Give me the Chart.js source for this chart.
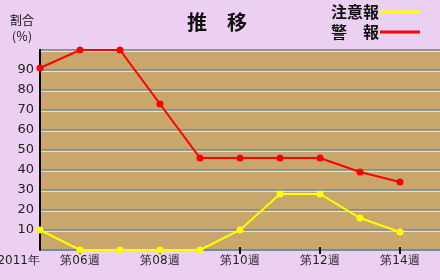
<!DOCTYPE html>
<html>
<head>
<meta charset="utf-8">
<style>
  body { margin: 0; background: #ecd0f2; }
  canvas { display: block; }
</style>
<script src="https://cdn.jsdelivr.net/npm/chart.js@4"></script>
</head>
<body>
<canvas id="chart" width="440" height="280"></canvas>
<script>
// weeks 05..14 of 2011
const weeks = ['2011年', '第06週', '第07週', '第08週', '第09週', '第10週', '第11週', '第12週', '第13週', '第14週'];
const shownWeekLabels = ['2011年', '第06週', '', '第08週', '', '第10週', '', '第12週', '', '第14週'];
const advisoryValues = [10, 0, 0, 0, 0, 10, 28, 28, 16, 9];   // 注意報
const warningValues = [91, 100, 100, 73, 46, 46, 46, 46, 39, 34]; // 警報
const yTicks = [10, 20, 30, 40, 50, 60, 70, 80, 90];

const BG = '#ecd0f2';
const PLOT_BG = '#c9a76c';
const GRID_BLUE = '#5b9bc2';
const GRID_CREAM = '#f2e2b4';
const FONT = '"DejaVu Sans", sans-serif';
const CJK = '"Noto Sans CJK JP", sans-serif';

const toPoints = (vals) => vals.map((v, i) => ({ x: i, y: v }));

// background + plot area fill + cream lines under the grid
const decorPlugin = {
  id: 'decor',
  beforeDraw(chart) {
    const { ctx, chartArea: a, scales } = chart;
    ctx.save();
    ctx.fillStyle = BG;
    ctx.fillRect(0, 0, chart.width, chart.height);
    ctx.fillStyle = PLOT_BG;
    ctx.fillRect(a.left, a.top, a.right - a.left, a.bottom - a.top);
    ctx.fillStyle = GRID_CREAM;
    for (let v = 10; v <= 100; v += 10) {
      const y = Math.round(scales.y.getPixelForValue(v));
      ctx.fillRect(a.left, y + 1, a.right - a.left, 1);
    }
    ctx.restore();
  },
  beforeDatasetsDraw(chart) {
    const { ctx, chartArea: a, scales } = chart;
    ctx.save();
    // small tick marks on the x axis
    ctx.strokeStyle = '#111';
    ctx.lineWidth = 2;
    weeks.forEach((w, i) => {
      if (i % 2 === 1) {
        const x = Math.round(scales.x.getPixelForValue(i));
        ctx.beginPath();
        ctx.moveTo(x, a.bottom - 3);
        ctx.lineTo(x, a.bottom + 4);
        ctx.stroke();
      }
    });
    ctx.restore();
  },
  afterDraw(chart) {
    const { ctx, scales, chartArea: a } = chart;
    ctx.save();
    ctx.fillStyle = '#111';
    // title
    ctx.font = 'bold 20px ' + CJK;
    ctx.textAlign = 'center';
    ctx.textBaseline = 'middle';
    ctx.fillText('推　移', 217, 22);
    // unit label
    ctx.font = '12px ' + CJK;
    ctx.fillText('割合', 22, 20);
    ctx.fillText('(％)', 22, 36);
    // first x label, right-aligned to the axis
    ctx.font = '12px ' + FONT;
    ctx.textAlign = 'right';
    ctx.fillStyle = '#222';
    ctx.fillText(weeks[0], Math.round(scales.x.getPixelForValue(0)), a.bottom + 11);
    // legend
    ctx.font = 'bold 16px ' + CJK;
    ctx.textAlign = 'left';
    chart.data.datasets.forEach((ds, i) => {
      const y = 12 + i * 20;
      ctx.fillStyle = '#111';
      ctx.fillText(ds.label, 331, y);
      ctx.strokeStyle = ds.borderColor;
      ctx.lineWidth = 3;
      ctx.beginPath();
      ctx.moveTo(380, y);
      ctx.lineTo(420, y);
      ctx.stroke();
    });
    ctx.restore();
  }
};

new Chart(document.getElementById('chart'), {
  type: 'line',
  data: {
    datasets: [
      {
        label: '注意報',
        data: toPoints(advisoryValues),
        borderColor: '#ffff00',
        backgroundColor: '#ffff00',
        borderWidth: 2,
        pointRadius: 3.5,
        pointBorderWidth: 0,
        tension: 0,
        clip: false
      },
      {
        label: '警　報',
        data: toPoints(warningValues),
        borderColor: '#ff0000',
        backgroundColor: '#ff0000',
        borderWidth: 2,
        pointRadius: 3.5,
        pointBorderWidth: 0,
        tension: 0,
        clip: false
      }
    ]
  },
  options: {
    responsive: false,
    animation: false,
    layout: { autoPadding: false, padding: { top: 50, right: 0, left: 0, bottom: 0 } },
    plugins: {
      legend: { display: false },
      tooltip: { enabled: false }
    },
    scales: {
      x: {
        type: 'linear',
        min: 0,
        max: 10,
        afterFit(scale) {
          scale.height = 30;
          scale.paddingLeft = 0;
          scale.paddingRight = 0;
        },
        afterBuildTicks(scale) {
          scale.ticks = weeks.map((w, i) => ({ value: i }));
        },
        border: { color: '#6f8aa6', width: 2 },
        grid: { display: false, drawTicks: false, tickLength: 0 },
        ticks: {
          autoSkip: false,
          maxRotation: 0,
          padding: 4,
          color: '#222',
          font: { family: 'DejaVu Sans', size: 12 },
          callback: (v) => (v === 0 ? '' : shownWeekLabels[v] || '')
        }
      },
      y: {
        min: 0,
        max: 100,
        afterFit(scale) {
          scale.width = 40;
          scale.paddingTop = 0;
          scale.paddingBottom = 0;
        },
        afterBuildTicks(scale) {
          scale.ticks = [0].concat(yTicks, [100]).map(v => ({ value: v }));
        },
        border: { color: '#000', width: 2 },
        grid: {
          color: (c) => (c.tick.value === 0 ? 'rgba(0,0,0,0)' : GRID_BLUE),
          lineWidth: 1.5,
          drawTicks: false
        },
        ticks: {
          padding: 6,
          color: '#222',
          font: { family: 'DejaVu Sans', size: 13 },
          callback: (v) => (yTicks.includes(v) ? String(v) : '')
        }
      }
    }
  },
  plugins: [decorPlugin]
});
</script>
</body>
</html>
